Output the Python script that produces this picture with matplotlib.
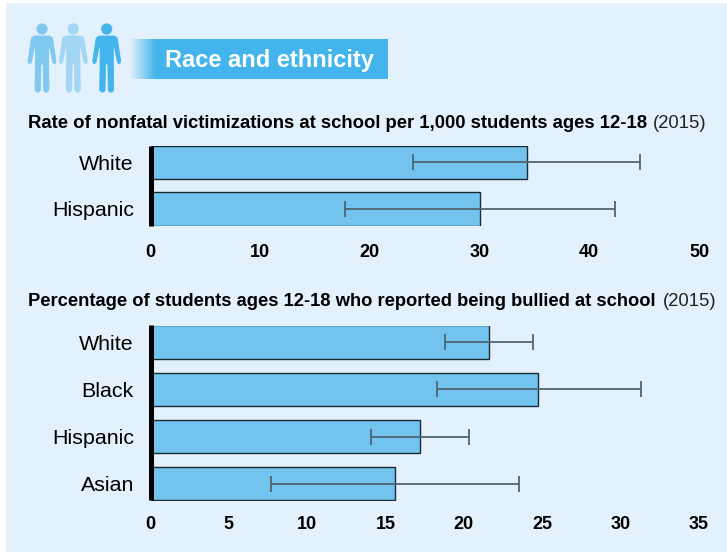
import numpy as np
import matplotlib
matplotlib.use("Agg")
import matplotlib.pyplot as plt
from matplotlib.patches import Rectangle, Circle, Polygon
from matplotlib.colors import LinearSegmentedColormap

W, H = 727, 552
BG = "#e2f1fb"
BAR = "#72c4ef"
BANNER = "#43b5ec"
ERR = "#4f6472"

rate_groups = ["White", "Hispanic"]
rate_values = [34.3, 30.0]
rate_low = [23.9, 17.7]
rate_high = [44.6, 42.3]
rate_ticks = [0, 10, 20, 30, 40, 50]

bully_groups = ["White", "Black", "Hispanic", "Asian"]
bully_values = [21.6, 24.7, 17.2, 15.6]
bully_low = [18.8, 18.3, 14.1, 7.7]
bully_high = [24.4, 31.3, 20.3, 23.5]
bully_ticks = [0, 5, 10, 15, 20, 25, 30, 35]

plt.rcParams["font.family"] = ["Liberation Sans", "DejaVu Sans"]
fig = plt.figure(figsize=(W / 100, H / 100), dpi=100, facecolor="white")

ov = fig.add_axes([0, 0, 1, 1], zorder=0)
ov.set_xlim(0, W)
ov.set_ylim(H, 0)
ov.axis("off")
ov.add_patch(Rectangle((6, 3), W - 6, H - 3, fc=BG, ec="none"))

half = [(0, 36), (8, 36), (10.5, 38), (14, 61), (12.8, 64), (10.8, 62.5), (7.6, 47), (6.6, 47), (6.6, 62),
        (7, 90), (5.4, 92), (3, 92), (1.6, 90), (1.2, 65), (0, 63)]


def person(cx, color):
    ov.add_patch(Circle((cx, 29), 5.6, fc=color, ec="none"))
    right = [(cx + dx, y) for dx, y in half]
    left = [(cx - dx, y) for dx, y in reversed(half)]
    ov.add_patch(Polygon(right + left, closed=True, fc=color, ec=color, lw=0.6, joinstyle="round"))


person(42, "#7fc8ef")
person(73.3, "#a3d6f3")
person(106.7, "#43b5ec")

cmap = LinearSegmentedColormap.from_list("fade", [BG, BANNER])
ov.imshow(np.linspace(0, 1, 64).reshape(1, -1), extent=(130, 156, 79, 39), cmap=cmap, aspect="auto", zorder=1)
ov.add_patch(Rectangle((155, 39), 233, 40, fc=BANNER, ec="none", zorder=1))
ov.set_xlim(0, W)
ov.set_ylim(H, 0)
ov.text(165, 58, "Race and ethnicity", color="white", fontsize=17.0, fontweight="bold",
        va="center_baseline", ha="left", zorder=2)

TS = 13.3
ov.text(28, 121, "Rate of nonfatal victimizations at school per 1,000 students ages 12-18", fontsize=TS,
        fontweight="bold", va="center_baseline", ha="left", color="black")
ov.text(706, 121, "(2015)", fontsize=TS, va="center_baseline", ha="right", color="#222222")
ov.text(28, 300, "Percentage of students ages 12-18 who reported being bullied at school", fontsize=13.25,
        fontweight="bold", va="center_baseline", ha="left", color="black")
ov.text(717, 300, "(2015)", fontsize=TS, va="center_baseline", ha="right", color="#222222")


def panel(top, bottom, xmax, groups, values, low, high, ticks, xpad):
    ax = fig.add_axes([150.5 / W, 1 - bottom / H, (699 - 150.5) / W, (bottom - top) / H], zorder=1)
    ax.patch.set_alpha(0)
    y = np.arange(len(groups))
    ax.barh(y, values, height=0.72, color=BAR, edgecolor="#1a2a35", linewidth=1.0)
    v = np.array(values)
    ax.errorbar(v, y, xerr=[v - np.array(low), np.array(high) - v], fmt="none", ecolor=ERR,
                elinewidth=1.3, capsize=5.5, capthick=1.3)
    ax.set_xlim(0, xmax)
    ax.set_ylim(len(groups) - 0.5 - 0.14, -0.5 + 0.14)
    ax.set_yticks(y, groups, fontsize=15.4)
    ax.set_xticks(ticks, [str(t) for t in ticks], fontsize=13, fontweight="bold")
    ax.tick_params(axis="both", length=0)
    ax.tick_params(axis="x", pad=xpad)
    ax.tick_params(axis="y", pad=12)
    for s in ["top", "right", "bottom"]:
        ax.spines[s].set_visible(False)
    ax.spines["left"].set_linewidth(3.6)
    ax.spines["left"].set_color("black")
    ax.spines["left"].set_capstyle("butt")
    return ax


panel(145.5, 225.5, 50, rate_groups, rate_values, rate_low, rate_high, rate_ticks, 13)
panel(325.5, 500.5, 35, bully_groups, bully_values, bully_low, bully_high, bully_ticks, 11)

fig.savefig("out.png", dpi=100, facecolor="white")
